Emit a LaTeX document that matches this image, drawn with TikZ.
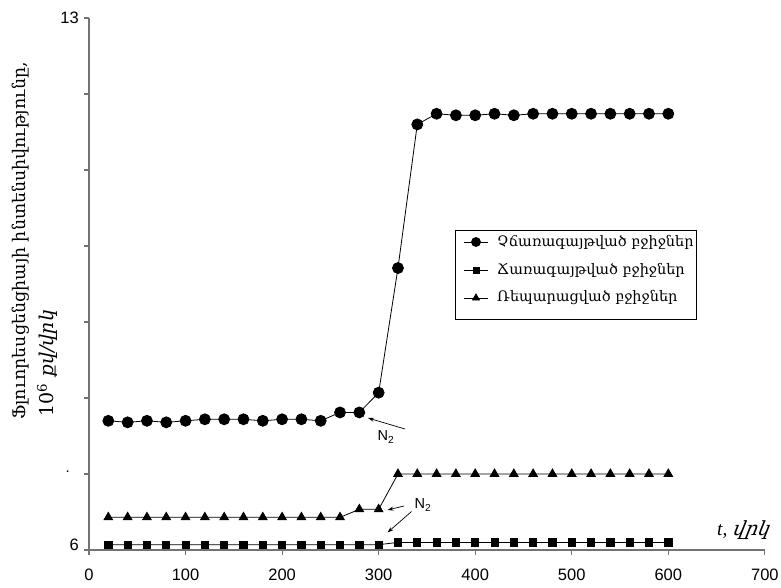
\documentclass[tikz,border=0pt]{standalone}
\usepackage{fontspec}
\setmainfont{Liberation Sans}
\newfontfamily\arm{DejaVu Serif}
\newfontfamily\armit[FakeSlant=0.2]{DejaVu Serif}
\newfontfamily\serifit{Liberation Serif}
\usetikzlibrary{arrows.meta,plotmarks}
\begin{document}
\begin{tikzpicture}[x=1pt,y=1pt,
  axisline/.style={draw=black!55,line width=1.2pt},
  series/.style={black,line width=0.8pt},
  circmark/.style={mark=*,mark size=5.5pt,mark options={fill=black}},
  sqmark/.style={mark=square*,mark size=3.6pt,mark options={fill=black}},
  trimark/.style={mark=triangle*,mark size=5pt,mark options={fill=black}},
  ticklab/.style={font=\fontsize{16.5}{18}\selectfont,inner sep=0pt},
  n2lab/.style={font=\fontsize{14.5}{16}\selectfont,inner sep=0pt},
  note/.style={-{Stealth[length=6pt,width=4pt]},black,line width=0.7pt},
  legtext/.style={font=\arm\fontsize{14.5}{17}\selectfont,anchor=west,inner sep=0pt}]
\useasboundingbox (0,0) rectangle (781,587);
% axes (origin at px (89,550))
\coordinate (O) at (89,37);
\coordinate (Ytop) at (89,569);
\coordinate (Xend) at (764.5,37);
\draw[axisline] (Ytop) -- (O) -- (Xend);
\foreach \i in {0,...,7} \draw[axisline] (84,37+\i*76) -- (89,37+\i*76);
\foreach \t in {0,100,...,700} {
  \draw[axisline] (89+\t*0.9655,37) -- (89+\t*0.9655,32);
  \node[ticklab] (xl\t) at (89+\t*0.9655,12) {\t};
}
\node[ticklab,anchor=east] (y13) at (79,569) {13};
\node[ticklab,anchor=east] (y6) at (79,42) {6};
% axis titles
\node[rotate=90,anchor=west,inner sep=0pt,font=\arm\fontsize{17.4}{19}\selectfont] (ytitle) at (21,167) {Ֆլուորեսցենցիայի ինտենսիվությունը,};
\node[rotate=90,anchor=west,inner sep=0pt,font=\fontsize{19}{21}\selectfont] (yunit) at (47,170) {\arm 10\textsuperscript{6} \armit քվ/վրկ};
\node[inner sep=0pt,font=\fontsize{2}{2}\selectfont] (dot) at (67.7,115.3) {\fontsize{15}{17}\selectfont .};
\node[anchor=west,inner sep=0pt,font=\fontsize{19.5}{21}\selectfont] (xtitle) at (717,57) {\serifit\itshape t, \armit վրկ};
% data
\begin{scope}[shift={(89,37)},x=0.9655pt,y=76pt]
\draw[series] plot[circmark] coordinates {(20,1.70)(40,1.68)(60,1.70)(80,1.68)(100,1.70)(120,1.72)(140,1.72)(160,1.72)(180,1.70)(200,1.72)(220,1.72)(240,1.70)(260,1.81)(280,1.81)(300,2.07)(320,3.71)(340,5.60)(360,5.74)(380,5.72)(400,5.72)(420,5.74)(440,5.72)(460,5.74)(480,5.74)(500,5.74)(520,5.74)(540,5.74)(560,5.74)(580,5.74)(600,5.74)};
\draw[series] plot[sqmark] coordinates {(20,0.07)(40,0.07)(60,0.07)(80,0.07)(100,0.07)(120,0.07)(140,0.07)(160,0.07)(180,0.07)(200,0.07)(220,0.07)(240,0.07)(260,0.07)(280,0.07)(300,0.07)(320,0.10)(340,0.10)(360,0.10)(380,0.10)(400,0.10)(420,0.10)(440,0.10)(460,0.10)(480,0.10)(500,0.10)(520,0.10)(540,0.10)(560,0.10)(580,0.10)(600,0.10)};
\draw[series] plot[trimark] coordinates {(20,0.43)(40,0.43)(60,0.43)(80,0.43)(100,0.43)(120,0.43)(140,0.43)(160,0.43)(180,0.43)(200,0.43)(220,0.43)(240,0.43)(260,0.43)(280,0.535)(300,0.535)(320,1.0)(340,1.0)(360,1.0)(380,1.0)(400,1.0)(420,1.0)(440,1.0)(460,1.0)(480,1.0)(500,1.0)(520,1.0)(540,1.0)(560,1.0)(580,1.0)(600,1.0)};
\end{scope}
% N2 annotations
\node[n2lab] (n2a) at (386,150) {N\textsubscript{2}};
\coordinate (a1t) at (405,158);
\coordinate (a1h) at (368,169);
\draw[note] (a1t) -- (a1h);
\node[n2lab] (n2b) at (423,82) {N\textsubscript{2}};
\coordinate (a2t) at (404,81);
\coordinate (a2h) at (387.5,77);
\draw[note] (a2t) -- (a2h);
\coordinate (a3t) at (411.5,75.5);
\coordinate (a3h) at (387.5,54.5);
\draw[note] (a3t) -- (a3h);
% legend
\node[draw=black,line width=0.8pt,minimum width=241pt,minimum height=89pt,inner sep=0pt,anchor=north west] (legend) at (455,357) {};
\draw[series] (464,345) -- (488,345) plot[circmark,mark size=4.5pt] coordinates {(476,345)};
\node[legtext] (l1) at (497,345) {Չճառագայթված բջիջներ};
\draw[series] (464,317) -- (488,317) plot[sqmark,mark size=3pt] coordinates {(476,317)};
\node[legtext] (l2) at (497,317) {Ճառագայթված բջիջներ};
\draw[series] (464,289) -- (488,289) plot[trimark,mark size=4pt] coordinates {(476,289)};
\node[legtext] (l3) at (497,289) {Ռեպարացված բջիջներ};
\end{tikzpicture}
\end{document}
